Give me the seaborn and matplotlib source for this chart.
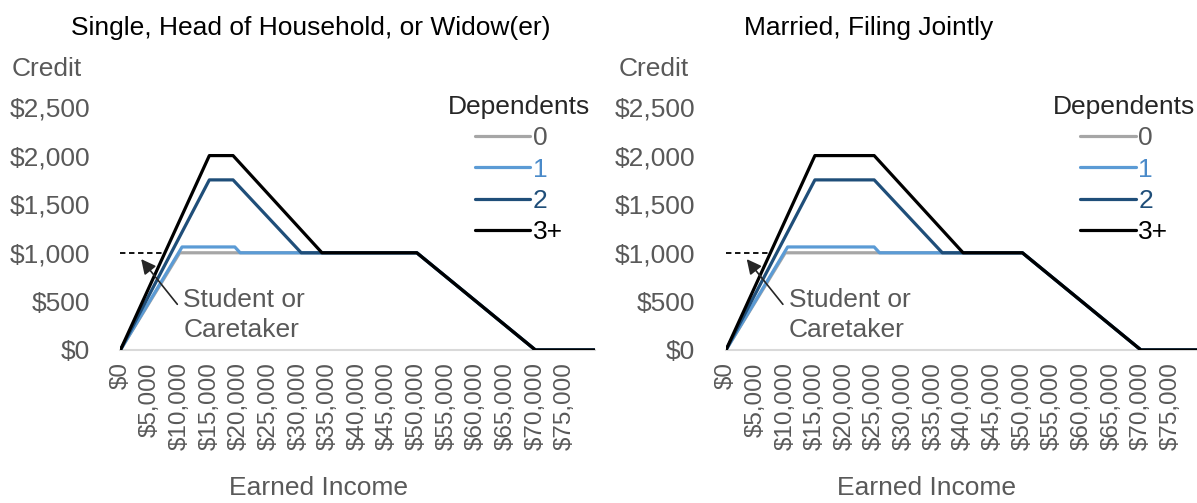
import numpy as np
import pandas as pd
import matplotlib
matplotlib.use('Agg')
import matplotlib.pyplot as plt
import seaborn as sns

# credit schedules (earned income -> credit)
dependents = ['0', '1', '2', '3+']

single_x_0 = [0, 10000, 50000, 70000, 80000]
single_y_0 = [0, 1000, 1000, 0, 0]
single_x_1 = [0, 10400, 19300, 20200, 50000, 70000, 80000]
single_y_1 = [0, 1060, 1060, 1000, 1000, 0, 0]
single_x_2 = [0, 15000, 19000, 30500, 50000, 70000, 80000]
single_y_2 = [0, 1750, 1750, 1000, 1000, 0, 0]
single_x_3 = [0, 15000, 19000, 34000, 50000, 70000, 80000]
single_y_3 = [0, 2000, 2000, 1000, 1000, 0, 0]

married_x_0 = [0, 10000, 50000, 70000, 80000]
married_y_0 = [0, 1000, 1000, 0, 0]
married_x_1 = [0, 10400, 25000, 25900, 50000, 70000, 80000]
married_y_1 = [0, 1060, 1060, 1000, 1000, 0, 0]
married_x_2 = [0, 15000, 25000, 36500, 50000, 70000, 80000]
married_y_2 = [0, 1750, 1750, 1000, 1000, 0, 0]
married_x_3 = [0, 15000, 25000, 40000, 50000, 70000, 80000]
married_y_3 = [0, 2000, 2000, 1000, 1000, 0, 0]

# student / caretaker reference
student_x = [0, 7500]
student_y = [1000, 1000]

x_ticks = list(range(0, 80000, 5000))
x_labels = ['$' + format(v, ',') for v in x_ticks]
y_ticks = [0, 500, 1000, 1500, 2000, 2500]
y_labels = ['$' + format(v, ',') for v in y_ticks]

titles = ['Single, Head of Household, or Widow(er)', 'Married, Filing Jointly']

line_colors = {'0': '#a6a6a6', '1': '#5b9bd5', '2': '#1f4e79', '3+': '#000000'}
label_colors = {'0': '#595959', '1': '#4a8ac9', '2': '#1f4e79', '3+': '#000000'}
grey_text = '#595959'


def make_frame(xs, ys):
    parts = []
    for dep, x, y in zip(dependents, xs, ys):
        parts.append(pd.DataFrame({'income': x, 'credit': y, 'Dependents': dep}))
    return pd.concat(parts, ignore_index=True)


single_df = make_frame([single_x_0, single_x_1, single_x_2, single_x_3],
                       [single_y_0, single_y_1, single_y_2, single_y_3])
married_df = make_frame([married_x_0, married_x_1, married_x_2, married_x_3],
                        [married_y_0, married_y_1, married_y_2, married_y_3])

sns.set_style('white')
plt.rcParams['font.family'] = ['Liberation Sans', 'DejaVu Sans']

fig = plt.figure(figsize=(11.97, 5.03), dpi=100)
ax_left = fig.add_axes([0.1006, 0.3042, 0.3962, 0.4831])
ax_right = fig.add_axes([0.6065, 0.3042, 0.3962, 0.4831])

fs = 19
for ax, df, title, tx, lx in [(ax_left, single_df, titles[0], 0.260, 0.266),
                              (ax_right, married_df, titles[1], 0.726, 0.774)]:
    sns.lineplot(data=df, x='income', y='credit', hue='Dependents',
                 hue_order=dependents, palette=line_colors, estimator=None,
                 sort=False, linewidth=2.3, ax=ax, zorder=3)
    ax.set_xlim(0, 80000)
    ax.set_ylim(0, 2500)
    ax.set_xticks(x_ticks)
    ax.set_xticklabels(x_labels, rotation=90, fontsize=17.5, color=grey_text)
    ax.set_yticks(y_ticks)
    ax.set_yticklabels(y_labels, fontsize=fs, color=grey_text)
    ax.tick_params(axis='both', length=0)
    ax.tick_params(axis='x', pad=9)
    ax.tick_params(axis='y', pad=22)
    ax.set_xlabel('')
    ax.set_ylabel('')
    for side in ['left', 'right', 'top']:
        ax.spines[side].set_visible(False)
    ax.spines['bottom'].set_color('#d9d9d9')
    ax.spines['bottom'].set_linewidth(1.5)
    ax.spines['bottom'].set_zorder(1)

    # student or caretaker marker
    ax.plot(student_x, student_y, color='black', linestyle=(0, (3, 2)), linewidth=1.3, zorder=4)
    ax.annotate('', xy=(3500, 935), xytext=(9600, 470),
                arrowprops=dict(arrowstyle='-|>', color='#262626', lw=1.2,
                                mutation_scale=22, shrinkA=0, shrinkB=0), zorder=4)
    ax.text(10600, 515, 'Student or', fontsize=fs, color=grey_text, va='center', ha='left')
    ax.text(10600, 210, 'Caretaker', fontsize=fs, color=grey_text, va='center', ha='left')

    leg = ax.legend(title='Dependents', loc='upper right', bbox_to_anchor=(0.99, 1.05),
                    frameon=False, fontsize=fs, title_fontsize=fs, handlelength=2.1,
                    handletextpad=0.1, labelspacing=0.28, borderpad=0, borderaxespad=0)
    for t in leg.get_texts():
        t.set_color(label_colors[t.get_text()])
    for h in leg.legend_handles:
        h.set_linewidth(2.3)

    fig.text(tx, 0.944, title, fontsize=fs, ha='center', va='center', color='black')
    fig.text(lx, 0.03, 'Earned Income', fontsize=fs, ha='center', va='center', color=grey_text)

fig.text(0.010, 0.862, 'Credit', fontsize=fs, ha='left', va='center', color=grey_text)
fig.text(0.517, 0.862, 'Credit', fontsize=fs, ha='left', va='center', color=grey_text)

fig.savefig('out.png', dpi=100)
